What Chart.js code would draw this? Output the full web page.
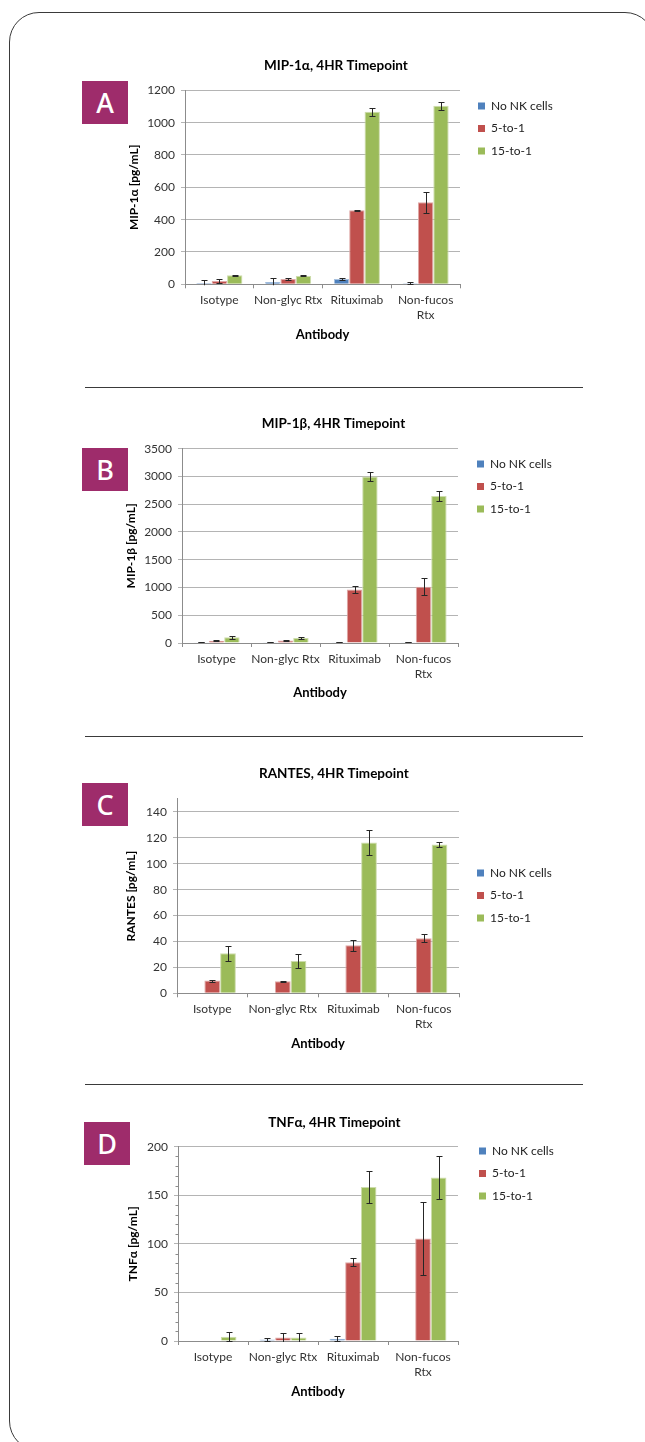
<!DOCTYPE html>
<html>
<head>
<meta charset="utf-8">
<title>NK cell cytokine release, 4HR timepoint</title>
<script src="https://cdn.jsdelivr.net/npm/chart.js@4.4.1/dist/chart.umd.min.js"></script>
<style>
	html, body {
		margin: 0;
		padding: 0;
		background: #fff;
	}
	body {
		position: relative;
		width: 645px;
		height: 1442px;
		overflow: hidden;
	}
	.frame {
		position: absolute;
		left: 9px;
		top: 12px;
		width: 646px;
		height: 1439px;
		border: 1px solid #3a3a3a;
		border-radius: 30px;
		box-sizing: border-box;
	}
	.rule {
		position: absolute;
		left: 85px;
		width: 498px;
		height: 1px;
		background: #3a3a3a;
	}
	.tag {
		position: absolute;
		width: 46px;
		height: 43px;
		background: #9e2c6b;
		color: #fff;
		font: 500 27px 'Noto Sans', sans-serif;
		line-height: 43px;
		text-align: center;
	}
	canvas {
		position: absolute;
	}
</style>
</head>
<body>
<div class="frame"></div>
<div class="rule" style="top:387px"></div>
<div class="rule" style="top:736px"></div>
<div class="rule" style="top:1084px"></div>

<div class="tag" style="left:82px;top:81px">A</div>
<div class="tag" style="left:82px;top:448px">B</div>
<div class="tag" style="left:82px;top:783px">C</div>
<div class="tag" style="left:84px;top:1122px">D</div>

<canvas id="chartA"></canvas>
<canvas id="chartB"></canvas>
<canvas id="chartC"></canvas>
<canvas id="chartD"></canvas>

<script>
// Shared categories and series
const CATEGORIES = ['Isotype', 'Non-glyc Rtx', 'Rituximab', ['Non-fucos', 'Rtx']];
const SERIES = ['No NK cells', '5-to-1', '15-to-1'];

// MIP-1α [pg/mL]
const mip1aNoNK = [8, 15, 33, 6];
const mip1a5to1 = [20, 33, 458, 508];
const mip1a15to1 = [56, 52, 1068, 1104];
const mip1aErrNoNK = [19, 26, 5, 6];
const mip1aErr5to1 = [15, 5, 2, 64];
const mip1aErr15to1 = [3, 3, 25, 23];

// MIP-1β [pg/mL]
const mip1bNoNK = [12, 15, 15, 15];
const mip1b5to1 = [42, 45, 964, 1012];
const mip1b15to1 = [102, 90, 3000, 2650];
const mip1bErrNoNK = [2, 3, 4, 4];
const mip1bErr5to1 = [8, 5, 60, 150];
const mip1bErr15to1 = [25, 10, 75, 88];

// RANTES [pg/mL]
const rantesNoNK = [0, 0, 0, 0];
const rantes5to1 = [9.8, 9.3, 37, 42.5];
const rantes15to1 = [31, 25, 116.5, 114.8];
const rantesErrNoNK = [0, 0, 0, 0];
const rantesErr5to1 = [0.8, 0.2, 4.3, 3];
const rantesErr15to1 = [5.8, 5.7, 9.5, 1.7];

// TNFα [pg/mL]
const tnfaNoNK = [0, 1.5, 2.4, 0];
const tnfa5to1 = [0, 3.5, 81, 105.5];
const tnfa15to1 = [4.5, 3.5, 158.5, 168.3];
const tnfaErrNoNK = [0, 1.5, 2.5, 0];
const tnfaErr5to1 = [0, 4.5, 4, 38];
const tnfaErr15to1 = [4.5, 4.5, 16, 22.5];

// Styling
const FONT = "Lato, 'Open Sans', sans-serif";
const SERIES_COLORS = ['#4f81bd', '#c0504d', '#9bbb59'];
const SERIES_EDGES = ['#a7c0de', '#dfa8a6', '#cddcac'];
const GRID_COLOR = '#b4b4b4';
const AXIS_COLOR = '#8c8c8c';
const TEXT_COLOR = '#333';
const LEGEND_FONT = 12;
const LEGEND_PAD = 10.5;

Chart.defaults.font.family = FONT;

// Moves the legend block to a fixed spot inside the canvas
const legendPlacement = {
	id: 'legendPlacement',
	afterLayout(chart, args, opts) {
		const legend = chart.legend;
		if (!legend || opts.x == null) return;
		const w = legend.width;
		const h = legend.height;
		legend.left = opts.x;
		legend.right = opts.x + w;
		legend.top = opts.y;
		legend.bottom = opts.y + h;
	},
};

// Symmetric error bars, read from dataset.errors
const errorBars = {
	id: 'errorBars',
	afterDatasetsDraw(chart, args, opts) {
		const { ctx, chartArea } = chart;
		const y = chart.scales.y;
		const cap = opts.cap || 3;
		ctx.save();
		ctx.beginPath();
		ctx.rect(chartArea.left, chartArea.top, chartArea.right - chartArea.left, chartArea.bottom - chartArea.top + 1);
		ctx.clip();
		ctx.strokeStyle = opts.color || '#222';
		ctx.lineWidth = 1;
		chart.data.datasets.forEach((ds, i) => {
			const meta = chart.getDatasetMeta(i);
			meta.data.forEach((bar, j) => {
				const err = ds.errors ? ds.errors[j] : 0;
				if (!err) return;
				const v = ds.data[j];
				const top = Math.round(y.getPixelForValue(v + err)) + 0.5;
				const bot = Math.round(y.getPixelForValue(v - err)) + 0.5;
				const x = Math.round(bar.x) + 0.5;
				ctx.beginPath();
				ctx.moveTo(x, top);
				ctx.lineTo(x, bot);
				ctx.moveTo(x - cap, top);
				ctx.lineTo(x + cap, top);
				ctx.moveTo(x - cap, bot);
				ctx.lineTo(x + cap, bot);
				ctx.stroke();
			});
		});
		ctx.restore();
	},
};

// Small minor tick marks on the outside of the value axis
const minorTicks = {
	id: 'minorTicks',
	afterDraw(chart, args, opts) {
		if (!opts.step) return;
		const { ctx } = chart;
		const y = chart.scales.y;
		const major = y.options.ticks.stepSize;
		const x0 = Math.round(y.right) + 0.5;
		ctx.save();
		ctx.strokeStyle = opts.color || AXIS_COLOR;
		ctx.lineWidth = 1;
		ctx.beginPath();
		for (let v = y.min; v <= y.max; v += opts.step) {
			if (v % major === 0) continue;
			const py = Math.round(y.getPixelForValue(v)) + 0.5;
			ctx.moveTo(x0 - (opts.length || 3), py);
			ctx.lineTo(x0, py);
		}
		ctx.stroke();
		ctx.restore();
	},
};

// Page positions (px) of each panel's pieces
const PANELS = [
	{
		id: 'chartA',
		title: 'MIP-1α, 4HR Timepoint',
		yTitle: 'MIP-1α [pg/mL]',
		yMax: 1200,
		yStep: 200,
		values: [mip1aNoNK, mip1a5to1, mip1a15to1],
		errors: [mip1aErrNoNK, mip1aErr5to1, mip1aErr15to1],
		geom: { titleY: 66, plotTop: 90.3, plotBottom: 284.3, plotLeft: 185, plotRight: 460, yTitleX: 134, catY: 300, axisTitleY: 335, legendX: 478, legendY: 106 },
	},
	{
		id: 'chartB',
		title: 'MIP-1β, 4HR Timepoint',
		yTitle: 'MIP-1β [pg/mL]',
		yMax: 3500,
		yStep: 500,
		values: [mip1bNoNK, mip1b5to1, mip1b15to1],
		errors: [mip1bErrNoNK, mip1bErr5to1, mip1bErr15to1],
		geom: { titleY: 424, plotTop: 448.7, plotBottom: 643, plotLeft: 182, plotRight: 458, yTitleX: 131, catY: 659, axisTitleY: 693, legendX: 477, legendY: 464 },
	},
	{
		id: 'chartC',
		title: 'RANTES, 4HR Timepoint',
		yTitle: 'RANTES [pg/mL]',
		yMax: 150,
		yStep: 20,
		values: [rantesNoNK, rantes5to1, rantes15to1],
		errors: [rantesErrNoNK, rantesErr5to1, rantesErr15to1],
		geom: { titleY: 774, plotTop: 799, plotBottom: 993.3, plotLeft: 177, plotRight: 459, yTitleX: 131, catY: 1009, axisTitleY: 1044, legendX: 477, legendY: 873 },
	},
	{
		id: 'chartD',
		title: 'TNFα, 4HR Timepoint',
		yTitle: 'TNFα [pg/mL]',
		yMax: 200,
		yStep: 50,
		minorStep: 10,
		values: [tnfaNoNK, tnfa5to1, tnfa15to1],
		errors: [tnfaErrNoNK, tnfaErr5to1, tnfaErr15to1],
		geom: { titleY: 1123, plotTop: 1146.7, plotBottom: 1341, plotLeft: 178, plotRight: 458, yTitleX: 133, catY: 1357, axisTitleY: 1392, legendX: 479, legendY: 1151 },
	},
];

function buildPanel(p) {
	const g = p.geom;
	const canvas = document.getElementById(p.id);
	const left = 90;
	const width = 500;
	const top = Math.round(g.titleY - 15);
	const bottom = Math.round(g.axisTitleY + 10);
	canvas.width = width;
	canvas.height = bottom - top;
	canvas.style.left = left + 'px';
	canvas.style.top = top + 'px';

	const legendWidth = 85;
	const titleHalf = 13.5 * 1.2 / 2;
	const yTitleHalf = 12 * 1.2 / 2;
	const xTitleHalf = 13 * 1.2 / 2;
	const catHalf = 12 * 1.25 / 2;
	const padLeft = g.yTitleX - yTitleHalf - left;
	const padRight = left + width - g.plotRight - legendWidth;
	const yAxisWidth = g.plotLeft - left - padLeft;
	const xAxisHeight = bottom - g.plotBottom;

	return new Chart(canvas, {
		type: 'bar',
		data: {
			labels: CATEGORIES,
			datasets: SERIES.map((name, i) => ({
				label: name,
				data: p.values[i],
				errors: p.errors[i],
				backgroundColor: SERIES_COLORS[i],
				borderColor: SERIES_EDGES[i],
				borderWidth: (ctx) => (ctx.raw ? 1 : 0),
				categoryPercentage: 0.67,
				barPercentage: 1,
			})),
		},
		options: {
			responsive: false,
			animation: false,
			events: [],
			layout: { padding: { left: padLeft, right: padRight, top: 0, bottom: 0 } },
			plugins: {
				title: {
					display: true,
					text: p.title,
					color: '#000',
					font: { family: FONT, size: 13.5, weight: 'bold', lineHeight: 1.2 },
					padding: { top: g.titleY - titleHalf - top, bottom: g.plotTop - g.titleY - titleHalf },
				},
				legend: {
					position: 'right',
					align: 'start',
					fullSize: false,
					maxWidth: legendWidth,
					labels: {
						boxWidth: 7,
						boxHeight: 7,
						padding: LEGEND_PAD,
						color: '#222',
						font: { family: FONT, size: LEGEND_FONT },
						generateLabels(chart) {
							return Chart.defaults.plugins.legend.labels
								.generateLabels(chart)
								.map((item) => ({ ...item, lineWidth: 0 }));
						},
					},
				},
				tooltip: { enabled: false },
				legendPlacement: {
					x: g.legendX - LEGEND_PAD - left,
					y: g.legendY - LEGEND_FONT / 2 - LEGEND_PAD - top,
				},
				errorBars: { color: '#262626', cap: 3 },
				minorTicks: { step: p.minorStep || 0, color: AXIS_COLOR, length: 3 },
			},
			scales: {
				x: {
					grid: {
						display: true,
						drawOnChartArea: false,
						drawTicks: true,
						tickLength: 4,
						offset: true,
						color: AXIS_COLOR,
					},
					border: { color: AXIS_COLOR },
					ticks: {
						color: TEXT_COLOR,
						font: { family: FONT, size: 12, lineHeight: 1.25 },
						padding: g.catY - g.plotBottom - 4 - catHalf,
						maxRotation: 0,
						autoSkip: false,
					},
					title: {
						display: true,
						text: 'Antibody',
						color: '#000',
						font: { family: FONT, size: 13, weight: 'bold', lineHeight: 1.2 },
						padding: { top: 0, bottom: bottom - xTitleHalf - g.axisTitleY },
					},
					afterFit(scale) {
						scale.height = xAxisHeight;
					},
				},
				y: {
					min: 0,
					max: p.yMax,
					grid: { color: GRID_COLOR, tickLength: 4 },
					border: { color: AXIS_COLOR },
					ticks: {
						stepSize: p.yStep,
						includeBounds: false,
						color: TEXT_COLOR,
						padding: 6,
						font: { family: FONT, size: 12 },
						callback: (v) => v,
					},
					title: {
						display: true,
						text: p.yTitle,
						color: '#000',
						font: { family: FONT, size: 12, weight: 'bold', lineHeight: 1.2 },
						padding: { top: 0, bottom: 0 },
					},
					afterFit(scale) {
						scale.width = yAxisWidth;
					},
				},
			},
		},
		plugins: [legendPlacement, errorBars, minorTicks],
	});
}

PANELS.forEach(buildPanel);
</script>
</body>
</html>
